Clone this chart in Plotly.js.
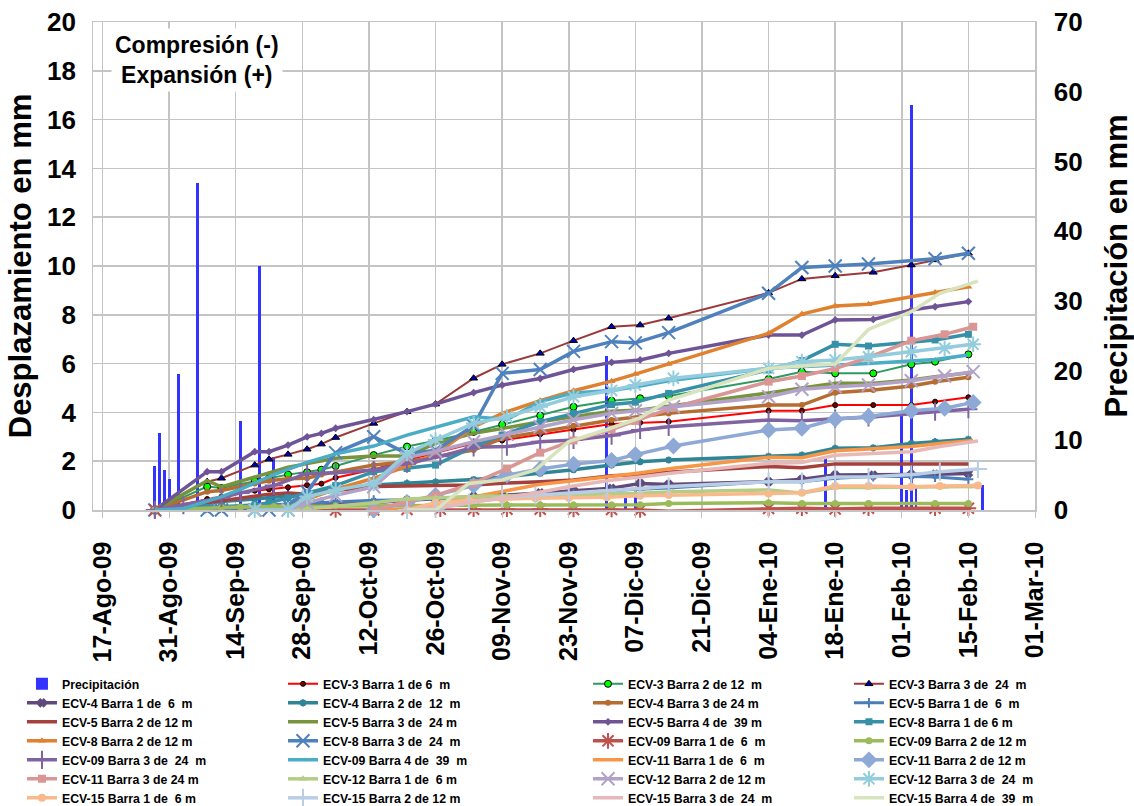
<!DOCTYPE html>
<html><head><meta charset="utf-8">
<script src="https://cdn.plot.ly/plotly-3.0.1.min.js"></script>
<style>body{margin:0;background:#fff}#chart{width:1134px;height:806px}</style>
</head><body><div id="chart"></div>
<script>
// ---------- DATA ----------
const fechasTicks = ['2009-08-17','2009-08-31','2009-09-14','2009-09-28','2009-10-12','2009-10-26','2009-11-09','2009-11-23','2009-12-07','2009-12-21','2010-01-04','2010-01-18','2010-02-01','2010-02-15','2010-03-01'];
const etiquetasTicks = ['17-Ago-09','31-Ago-09','14-Sep-09','28-Sep-09','12-Oct-09','26-Oct-09','09-Nov-09','23-Nov-09','07-Dic-09','21-Dic-09','04-Ene-10','18-Ene-10','01-Feb-10','15-Feb-10','01-Mar-10'];

const fechasLluvia = ['2009-08-28','2009-08-29','2009-08-30','2009-08-31','2009-09-02','2009-09-06','2009-09-15','2009-09-19','2009-09-22','2009-09-25','2009-12-01','2009-12-05','2009-12-07','2010-01-16','2010-02-01','2010-02-02','2010-02-03','2010-02-04','2010-02-18'];
const lluvia = [6.3,11.1,5.7,4.5,19.5,46.9,12.7,35.0,7.6,3.6,22.1,2.4,2.9,7.6,13.6,2.9,58.1,3.3,3.6];

const fechasECV345 = ['2009-08-28','2009-09-08','2009-09-11','2009-09-18','2009-09-21','2009-09-25','2009-09-29','2009-10-02','2009-10-05','2009-10-13','2009-10-20','2009-10-26','2009-11-03','2009-11-09','2009-11-17','2009-11-24','2009-12-02','2009-12-08','2009-12-14','2010-01-04','2010-01-11','2010-01-18','2010-01-26','2010-02-03','2010-02-08','2010-02-15'];
const fechasECV8 = ['2009-08-28','2009-09-08','2009-09-11','2009-09-18','2009-09-21','2009-09-25','2009-09-29','2009-10-05','2009-10-13','2009-10-20','2009-10-26','2009-11-03','2009-11-09','2009-11-17','2009-11-24','2009-12-02','2009-12-07','2009-12-14','2010-01-04','2010-01-11','2010-01-18','2010-01-25','2010-02-08','2010-02-15'];
const fechasECV09 = ['2009-08-28','2009-09-03','2009-09-11','2009-09-15','2009-09-22','2009-09-29','2009-10-05','2009-10-13','2009-10-20','2009-10-27','2009-11-03','2009-11-10','2009-11-17','2009-11-24','2009-12-02','2009-12-08','2009-12-14','2010-01-04','2010-01-11','2010-01-18','2010-01-25','2010-02-08','2010-02-15'];
const fechasECV11 = ['2009-10-13','2009-10-20','2009-10-26','2009-11-03','2009-11-10','2009-11-17','2009-11-24','2009-12-02','2009-12-07','2009-12-15','2010-01-04','2010-01-11','2010-01-18','2010-01-25','2010-02-03','2010-02-10','2010-02-16'];
const fechasECV12 = ['2009-09-18','2009-09-25','2009-09-29','2009-10-05','2009-10-13','2009-10-20','2009-10-26','2009-11-03','2009-11-10','2009-11-17','2009-11-24','2009-12-02','2009-12-07','2009-12-15','2010-01-04','2010-01-11','2010-01-18','2010-01-25','2010-02-03','2010-02-10','2010-02-16'];
const fechasECV15 = ['2009-10-20','2009-10-26','2009-11-02','2009-11-09','2009-11-16','2009-11-23','2009-12-01','2009-12-08','2009-12-14','2010-01-04','2010-01-11','2010-01-18','2010-01-25','2010-02-03','2010-02-09','2010-02-17'];

const ecv3b1 = [0,0.45,0.55,0.79,0.85,0.93,1.02,1.08,1.32,1.66,2.05,2.35,2.73,2.85,3.1,3.3,3.52,3.58,3.62,4.07,4.07,4.3,4.3,4.3,4.44,4.62];
const ecv3b2 = [0,0.96,0.9,1.2,1.3,1.45,1.55,1.65,1.8,2.25,2.6,2.84,3.2,3.5,3.87,4.23,4.48,4.58,4.67,5.37,5.67,5.6,5.6,5.97,6.08,6.38];
const ecv3b3 = [0,1.16,1.3,1.84,2.08,2.28,2.49,2.7,2.97,3.55,4.03,4.34,5.4,5.97,6.42,6.94,7.51,7.58,7.86,8.9,9.47,9.6,9.74,10.04,10.25,10.52];
const ecv4b1 = [0,0.05,0.05,0.08,0.1,0.12,0.2,0.22,0.25,0.3,0.4,0.45,0.55,0.6,0.7,0.8,0.89,1.09,1.05,1.16,1.26,1.43,1.43,1.45,1.47,1.5];
const ecv4b2 = [0,0.3,0.35,0.45,0.5,0.55,0.65,0.75,0.85,1.02,1.1,1.15,1.25,1.35,1.5,1.65,1.84,1.98,2.05,2.2,2.25,2.53,2.55,2.73,2.8,2.9];
const ecv4b3 = [0,0.75,0.8,1.09,1.2,1.28,1.3,1.45,1.55,1.84,1.98,2.2,2.46,2.94,3.2,3.45,3.69,3.83,3.96,4.3,4.3,4.81,4.92,5.08,5.26,5.44];
const ecv5b1 = [0,0.1,0.12,0.18,0.2,0.25,0.3,0.32,0.35,0.4,0.42,0.45,0.5,0.55,0.6,0.65,0.8,0.85,0.9,1.16,1.16,1.3,1.37,1.37,1.35,1.26];
const ecv5b2 = [0,0.3,0.4,0.6,0.65,0.7,0.65,0.7,0.8,0.96,1.0,1.0,1.02,1.1,1.16,1.23,1.4,1.45,1.55,1.78,1.73,1.89,1.89,1.89,1.89,1.89];
const ecv5b3 = [0,1.2,0.95,1.35,1.55,1.75,1.9,2.0,2.12,2.21,2.21,2.73,3.14,3.34,3.62,3.82,4.05,4.1,4.25,4.8,5.0,5.19,5.19,5.33,5.46,5.62];
const ecv5b4 = [0,1.57,1.57,2.39,2.39,2.66,3.0,3.14,3.35,3.7,4.03,4.34,4.81,5.12,5.39,5.76,6.05,6.15,6.42,7.17,7.17,7.79,7.81,8.2,8.33,8.54];
const ecv8b1 = [0,0.1,0.15,0.2,0.3,0.5,0.7,1.0,1.57,1.7,1.84,2.6,3.07,3.62,3.96,4.32,4.42,4.78,5.74,6.12,6.79,6.72,6.97,7.2];
const ecv8b2 = [0,0,0,0.05,0.1,0.2,0.45,0.85,1.3,1.8,2.3,3.4,3.96,4.48,4.89,5.28,5.57,5.98,7.24,8.03,8.36,8.43,8.91,9.15];
const ecv8b3 = [0,0,0,0,0,0.2,0.75,2.35,3.0,2.3,2.45,3.45,5.6,5.76,6.5,6.9,6.85,7.27,8.88,9.94,10.0,10.08,10.3,10.52];
const ecv09b1 = [0,-0.1,-0.1,-0.05,-0.05,-0.05,0,0,0.02,0.03,0.03,0.03,0.03,0.02,0.02,0,-0.05,0.06,0.07,0.04,0.07,0.07,0.07];
const ecv09b2 = [0,0.05,0.1,0.12,0.14,0.15,0.17,0.18,0.2,0.2,0.2,0.2,0.2,0.2,0.2,0.22,0.27,0.3,0.27,0.27,0.27,0.27,0.27];
const ecv09b3 = [0,0.2,0.5,0.7,1.0,1.5,1.53,1.64,1.9,2.2,2.57,2.6,2.8,2.87,3.05,3.28,3.41,3.69,3.66,3.74,3.8,4.03,4.13];
const ecv09b4 = [0,0.05,0.55,0.85,1.45,1.95,2.3,2.62,3.07,3.44,3.82,3.71,4.44,4.8,4.9,5.08,5.3,5.81,5.87,5.95,6.0,6.17,6.35];
const ecv11b1 = [0,0.05,0.25,0.55,0.8,1.05,1.2,1.37,1.5,1.71,2.16,2.14,2.43,2.5,2.6,2.75,2.85];
const ecv11b2 = [0,0.3,0.6,1.0,1.43,1.68,1.88,2.03,2.27,2.62,3.28,3.35,3.72,3.83,4.07,4.17,4.41];
const ecv11b3 = [0,0.35,0.6,1.1,1.7,2.35,2.85,3.3,3.65,4.2,5.26,5.49,5.8,6.25,6.94,7.2,7.51];
const ecv12b1 = [0,0,0.05,0.15,0.3,0.45,0.5,0.55,0.58,0.6,0.62,0.65,0.68,0.75,0.82,0.7,0.92,0.92,0.95,0.95,0.96];
const ecv12b2 = [0,0,0.3,0.6,0.95,2.15,2.4,2.8,3.1,3.41,3.7,3.96,4.07,4.23,4.64,4.95,5.05,5.12,5.3,5.49,5.67];
const ecv12b3 = [0,0,0.55,0.82,1.09,2.32,2.87,3.55,3.82,4.23,4.64,4.9,5.12,5.4,5.81,6.08,6.15,6.28,6.49,6.63,6.79];
const ecv15b1 = [0,0.3,0.4,0.45,0.48,0.5,0.52,0.58,0.61,0.68,0.71,0.98,0.98,0.95,0.98,1.0];
const ecv15b2 = [0,0.05,0.3,0.5,0.6,0.7,0.8,0.88,0.96,1.16,1.16,1.35,1.35,1.45,1.57,1.68];
const ecv15b3 = [0,0.1,0.3,0.5,0.7,0.95,1.2,1.35,1.5,1.91,1.95,2.24,2.3,2.39,2.6,2.83];
const ecv15b4 = [0,0,1.09,1.23,1.64,2.8,3.3,3.77,4.5,5.8,5.9,5.98,7.4,8.13,8.88,9.38];

const nombres = ['Precipitación',
 'ECV-3 Barra 1 de 6  m','ECV-3 Barra 2 de 12  m','ECV-3 Barra 3 de  24  m',
 'ECV-4 Barra 1 de  6  m','ECV-4 Barra 2 de  12  m','ECV-4 Barra 3 de 24 m',
 'ECV-5 Barra 1 de  6  m','ECV-5 Barra 2 de 12 m','ECV-5 Barra 3 de  24 m','ECV-5 Barra 4 de  39 m',
 'ECV-8 Barra 1 de 6 m','ECV-8 Barra 2 de 12 m','ECV-8 Barra 3 de  24  m',
 'ECV-09 Barra 1 de  6  m','ECV-09 Barra 2 de 12 m','ECV-09 Barra 3 de  24  m','ECV-09 Barra 4 de  39  m',
 'ECV-11 Barra 1 de  6  m','ECV-11 Barra 2 de 12 m','ECV-11 Barra 3 de 24 m',
 'ECV-12 Barra 1 de  6 m','ECV-12 Barra 2 de 12 m','ECV-12 Barra 3 de  24  m',
 'ECV-15 Barra 1 de  6 m','ECV-15 Barra 2 de 12 m','ECV-15 Barra 3 de  24  m','ECV-15 Barra 4 de  39  m'];

const series = [
 [fechasECV345, ecv3b1],[fechasECV345, ecv3b2],[fechasECV345, ecv3b3],
 [fechasECV345, ecv4b1],[fechasECV345, ecv4b2],[fechasECV345, ecv4b3],
 [fechasECV345, ecv5b1],[fechasECV345, ecv5b2],[fechasECV345, ecv5b3],[fechasECV345, ecv5b4],
 [fechasECV8, ecv8b1],[fechasECV8, ecv8b2],[fechasECV8, ecv8b3],
 [fechasECV09, ecv09b1],[fechasECV09, ecv09b2],[fechasECV09, ecv09b3],[fechasECV09, ecv09b4],
 [fechasECV11, ecv11b1],[fechasECV11, ecv11b2],[fechasECV11, ecv11b3],
 [fechasECV12, ecv12b1],[fechasECV12, ecv12b2],[fechasECV12, ecv12b3],
 [fechasECV15, ecv15b1],[fechasECV15, ecv15b2],[fechasECV15, ecv15b3],[fechasECV15, ecv15b4]
];

// ---------- STYLES ----------
// color, line width, marker symbol, marker size, marker fill, marker outline
const estilos = [
 ['#FF0000',2,'circle',5,'#7A0000','#000000'],
 ['#2E9A62',2,'circle',7,'#00FF00','#000000'],
 ['#9A3A3A',2,'triangle-up',7,'#0000B0','#000000'],
 ['#604A7B',3.5,'x',6,null,null],
 ['#2F8596',3.5,'asterisk-open',6,null,null],
 ['#B66D31',3.5,'circle',6,null,null],
 ['#4A7EBB',3,'cross-thin-open',7,null,null],
 ['#A5403D',3.5,null,0,null,null],
 ['#77933C',3.5,null,0,null,null],
 ['#6E5497',3.5,'diamond',6,null,null],
 ['#3690A8',3.5,'square',7,null,null],
 ['#E0812F',3.5,'triangle-up',7,null,null],
 ['#4F81BD',3.5,'x-thin-open',13,null,null],
 ['#C0504D',3.5,'asterisk-open',13,null,null],
 ['#9BBB59',3.5,'circle',7,null,null],
 ['#8064A2',3.5,'cross-thin-open',13,null,null],
 ['#4BACC6',3.5,null,0,null,null],
 ['#F79646',3.5,null,0,null,null],
 ['#8EA9D6',3.5,'diamond',13,null,null],
 ['#D99694',3.5,'square',8,null,null],
 ['#B4CC84',3.5,'triangle-up',7,null,null],
 ['#B3A2C7',3.5,'x-thin-open',13,null,null],
 ['#93CDDD',3.5,'asterisk-open',13,null,null],
 ['#F9B98A',3.5,'circle',8,null,null],
 ['#B9CDE5',3.5,'cross-thin-open',13,null,null],
 ['#E6B9B8',3.5,null,0,null,null],
 ['#D7E4BD',3.5,null,0,null,null]
];

const FONT = '"Liberation Sans", Arial, sans-serif';
const legendIds = ['legend','legend2','legend3','legend4'];

const traces = [{
  type:'bar', name:nombres[0], x:fechasLluvia, y:lluvia, yaxis:'y', xaxis:'x',
  width:0.6*86400000, marker:{color:'#3333FF'}, legend:legendIds[0]
}];
series.forEach((s,i)=>{
  const st = estilos[i];
  const tr = {
    type:'scatter', name:nombres[i+1], x:s[0], y:s[1], xaxis:'x', yaxis:'y2',
    line:{color:st[0], width:st[1]}, cliponaxis:false,
    legend:legendIds[(i+1)%4]
  };
  if(st[2]){
    tr.mode='lines+markers';
    const open = st[2].indexOf('open')>=0 || st[2]==='x';
    tr.marker={symbol:st[2], size:st[3], color:st[4]||st[0],
      line:{color:st[5]||st[0], width: open?2:(st[5]?1:0)}};
  } else tr.mode='lines';
  traces.push(tr);
});

const legBase = {orientation:'v', yanchor:'top', xanchor:'left', y:-0.3265,
  font:{family:FONT, size:12.3, weight:'bold', color:'#000'}, bgcolor:'rgba(0,0,0,0)', itemwidth:30, tracegroupgap:0};
const legXs = [-0.0754, 0.2017, 0.5255, 0.8025];

const gridc = '#C4C4C4';
const layout = {
  width:1134, height:806,
  margin:{l:93, r:99, t:22, b:296, autoexpand:false},
  paper_bgcolor:'#fff', plot_bgcolor:'#fff',
  font:{family:FONT, color:'#000'},
  bargap:0,
  xaxis:{type:'date', range:['2009-08-15','2010-03-01'], tickmode:'array', tickvals:fechasTicks, ticktext:etiquetasTicks,
    tickangle:-90, tickfont:{family:FONT, size:25, weight:'bold', color:'#000'},
    showgrid:true, gridcolor:gridc, gridwidth:1.5, showline:true, linecolor:gridc, linewidth:1.5, mirror:true,
    ticks:'outside', ticklen:6, tickcolor:gridc, ticklabelstandoff:14, zeroline:false},
  yaxis:{range:[0,70], dtick:10, side:'right', showgrid:false, zeroline:false,
    showline:true, linecolor:gridc, linewidth:1.5, mirror:true,
    tickfont:{family:FONT, size:26, weight:'bold', color:'#000'}, ticklabelstandoff:12,
    title:{text:'Precipitación en mm', font:{family:FONT, size:31, weight:'bold', color:'#000'}, standoff:24}},
  yaxis2:{range:[0,20], dtick:2, overlaying:'y', side:'left', showgrid:true, gridcolor:gridc, gridwidth:1.5, zeroline:false,
    tickfont:{family:FONT, size:26, weight:'bold', color:'#000'}, ticklabelstandoff:16,
    title:{text:'Desplazamiento en mm', font:{family:FONT, size:31, weight:'bold', color:'#000'}, standoff:6}},
  annotations:[{xref:'paper', yref:'paper', x:0.110, y:0.922, xanchor:'center', yanchor:'middle',
    text:'Compresión (-)<br>Expansión (+)', showarrow:false,
    font:{family:FONT, size:23, weight:'bold', color:'#000'}, bgcolor:'#fff', borderpad:3}],
  showlegend:true
};
legendIds.forEach((id,k)=>{ layout[id] = Object.assign({}, legBase, {x:legXs[k]}); });

Plotly.newPlot('chart', traces, layout, {displayModeBar:false, staticPlot:true});
</script>
</body></html>
